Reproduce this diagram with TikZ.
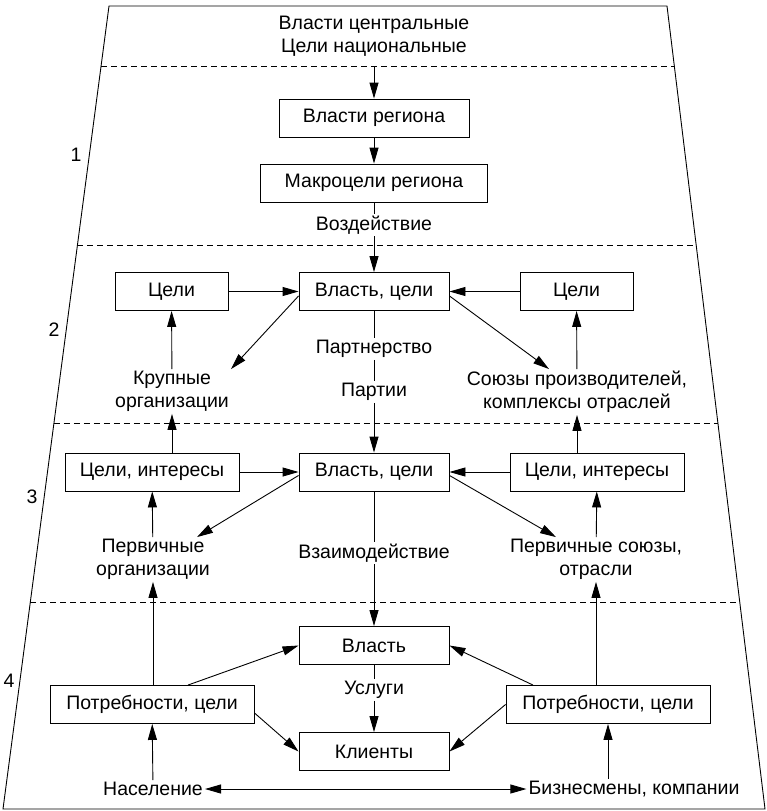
\documentclass[tikz,border=0pt]{standalone}
\usepackage{fontspec}
\setmainfont{Liberation Sans}
\usetikzlibrary{arrows.meta,calc}
\newcommand\boxfont{\fontsize{19.5}{23}\selectfont}
\tikzstyle{box}=[draw,line width=0.9pt,minimum height=38pt,inner sep=0pt,font=\boxfont]
\tikzstyle{lbl}=[inner sep=2pt,align=center,font=\boxfont]
\tikzstyle{edge}=[draw,line width=0.9pt,-{Triangle[length=16pt,width=9pt]}]
\tikzstyle{line}=[draw,line width=0.9pt]
\tikzstyle{layer}=[draw,line width=0.9pt,dash pattern=on 6pt off 4pt]

\begin{document}
\begin{tikzpicture}[x=1pt,y=-1pt]
\useasboundingbox (0,0) rectangle (766,811);

% frame
   \coordinate (TL) at (109,6);
   \coordinate (TR) at (667,6);
   \coordinate (BL) at (3,809);
   \coordinate (BR) at (765,809);
   \path[line] (TL) -- (TR) -- (BR) -- (BL) -- cycle;

% layers
   \foreach \y in {66,245,423,602}
      \path[layer] ($(TL)!{(\y-6)/803}!(BL)$) -- ($(TR)!{(\y-6)/803}!(BR)$);

   \foreach \pos/\name/\num in {{(76,155)/n1/1}, {(54,330)/n2/2}, {(32,497)/n3/3}, {(9,681)/n4/4}}
      \node[lbl] (\name) at \pos {\num};

% boxes
   \foreach \pos/\name/\w/\txt in {{(374,118)/VR/190/Власти региона}, {(374,183)/MR/227/Макроцели региона},
         {(171.5,291.5)/CL/113/Цели}, {(374,291.5)/VC2/150/Власть, цели}, {(576.5,291.5)/CR/113/Цели},
         {(152,472)/CIL/174/Цели, интересы}, {(374,472)/VC3/150/Власть, цели}, {(597,472)/CIR/174/Цели, интересы},
         {(374,645.5)/Vlast/150/Власть}, {(374,751.5)/Klienty/150/Клиенты},
         {(152,704.5)/potL/204/Потребности, цели}, {(608,704.5)/potR/204/Потребности, цели}}
      \node[box,minimum width=\w pt] (\name) at \pos {\txt};

% labels
   \foreach \pos/\name/\txt in {{(374,36)/top/Власти центральные\\Цели национальные}, {(374,225)/vozd/Воздействие},
         {(172,391.5)/krup/Крупные\\организации}, {(577,392)/soyuz/Союзы производителей,\\комплексы отраслей},
         {(374,349)/partn/Партнерство}, {(374,392)/partii/Партии},
         {(153,559.5)/pervL/Первичные\\организации}, {(374,553)/vzaim/Взаимодействие}, {(596,559.5)/pervR/Первичные союзы,\\отрасли},
         {(374,690)/uslugi/Услуги}, {(153,789)/nas/Население}, {(634,789)/biz/Бизнесмены, компании}}
      \node[lbl] (\name) at \pos {\txt};

   \coordinate (in) at (374,66);

% Connect boxes and labels
   \foreach \source/ \dest in {MR/vozd, VC2/partn, partn/partii, VC3/vzaim, Vlast/uslugi}
      \path[line] (\source) -- (\dest);
   \foreach \source/ \dest in {in/VR, VR/MR, vozd/VC2, partii/VC3, vzaim/Vlast, uslugi/Klienty,
         CL/VC2, CR/VC2, CIL/VC3, CIR/VC3, krup/CL, soyuz/CR, pervL/CIL, pervR/CIR, nas/potL}
      \path[edge] (\source) -- (\dest);

   \path[edge] (krup.south |- CIL.north) -- (krup.south);
   \path[edge] (soyuz.south |- CIR.north) -- (soyuz.south);
   \path[edge] (pervL.south |- potL.north) -- (pervL.south);
   \path[edge] (pervR.south |- potR.north) -- (pervR.south);
   \path[edge] (potR.south |- biz.north) -- (potR.south);
   \path[edge,{Triangle[length=16pt,width=9pt]}-{Triangle[length=16pt,width=9pt]}] (nas) -- (biz);

%diagonals
   \path[edge] ([yshift=15pt]VC2.south west) -- (krup.north east);
   \path[edge] ([yshift=15pt]VC2.south east) -- ([xshift=-28pt]soyuz.north);
   \path[edge] ([yshift=16pt]VC3.south west) -- ([xshift=-15pt]pervL.north east);
   \path[edge] ([yshift=16pt]VC3.south east) -- ([xshift=-40pt]pervR.north);
   \path[edge] ([xshift=36pt]potL.north) -- (Vlast.west);
   \path[edge] ([xshift=-75pt]potR.north) -- (Vlast.east);
   \path[edge] ([yshift=11pt]potL.south east) -- (Klienty.west);
   \path[edge] (potR.west) -- (Klienty.east);

\end{tikzpicture}
\end{document}
